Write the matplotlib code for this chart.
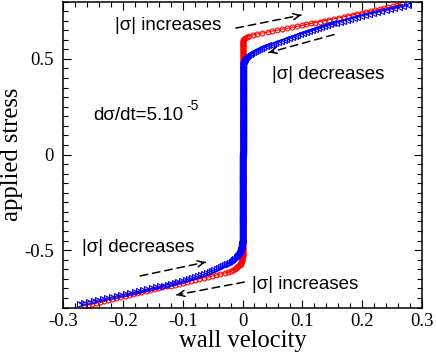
import numpy as np
import matplotlib
matplotlib.use("Agg")
import matplotlib.pyplot as plt
from matplotlib.ticker import MultipleLocator

# ---------------- data ----------------
step = 0.005  # stress sampling step (uniform in time)

# red, |sigma| increasing, upper branch (knee + linear part)
red_up_sig = np.round(np.arange(0.590, 0.7851, step), 3)
red_up_v = [0.000, 0.0005, 0.001, 0.002, 0.004, 0.007, 0.011, 0.017, 0.025, 0.033,
            0.042, 0.050, 0.058, 0.066, 0.075, 0.083, 0.091, 0.099, 0.106, 0.114,
            0.121, 0.129, 0.137, 0.145, 0.153, 0.161, 0.169, 0.176, 0.184, 0.191,
            0.199, 0.206, 0.214, 0.221, 0.229, 0.236, 0.244, 0.251, 0.259, 0.266]

# red, |sigma| increasing, lower branch (ascending sigma)
red_lo_sig = np.round(np.arange(-0.790, -0.5299, step), 3)
red_lo_v = [-0.265, -0.259, -0.252, -0.245, -0.238, -0.231, -0.225, -0.218, -0.211, -0.204,
            -0.197, -0.190, -0.183, -0.176, -0.169, -0.162, -0.155, -0.148, -0.141, -0.134,
            -0.127, -0.120, -0.113, -0.106, -0.099, -0.093, -0.086, -0.079, -0.072, -0.065,
            -0.058, -0.051, -0.044, -0.037, -0.030, -0.024, -0.019, -0.016, -0.013, -0.011,
            -0.009, -0.007, -0.005, -0.004, -0.003, -0.0025, -0.002, -0.0015, -0.001, -0.0008,
            -0.0005, -0.0003, 0.000]

# blue, |sigma| decreasing, upper branch
blue_up_sig = np.round(np.arange(0.470, 0.7801, step), 3)
blue_up_v = [0.000, 0.0005, 0.001, 0.0015, 0.002, 0.003, 0.004, 0.005, 0.006, 0.008,
             0.010, 0.012, 0.015, 0.018, 0.021, 0.024, 0.027, 0.031, 0.035, 0.039,
             0.043, 0.047, 0.051, 0.055, 0.060, 0.064, 0.069, 0.073, 0.078, 0.082,
             0.087, 0.091, 0.096, 0.101, 0.106, 0.111, 0.116, 0.121, 0.126, 0.131,
             0.136, 0.141, 0.146, 0.152, 0.157, 0.163, 0.168, 0.174, 0.180, 0.186,
             0.192, 0.198, 0.205, 0.211, 0.218, 0.225, 0.232, 0.239, 0.247, 0.254,
             0.262, 0.269, 0.277]

# blue, |sigma| decreasing, lower branch (ascending sigma)
blue_lo_sig = np.round(np.arange(-0.780, -0.4649, step), 3)
blue_lo_v = [-0.272, -0.265, -0.257, -0.249, -0.241, -0.233, -0.226, -0.218, -0.210, -0.203,
             -0.195, -0.188, -0.180, -0.173, -0.166, -0.159, -0.152, -0.145, -0.138, -0.132,
             -0.125, -0.119, -0.113, -0.107, -0.101, -0.095, -0.090, -0.084, -0.079, -0.074,
             -0.069, -0.064, -0.060, -0.055, -0.051, -0.047, -0.043, -0.039, -0.036, -0.032,
             -0.029, -0.026, -0.023, -0.021, -0.018, -0.016, -0.014, -0.012, -0.010, -0.009,
             -0.007, -0.006, -0.005, -0.004, -0.003, -0.0025, -0.002, -0.0015, -0.001, -0.0008,
             -0.0005, -0.0003, -0.0001, 0.000]

# pinned (zero velocity) parts of each loop
red_pin_sig = np.round(np.arange(-0.525, 0.5851, step), 3)
blue_pin_sig = np.round(np.arange(-0.460, 0.4651, step), 3)
pin_v = 0.0

xticks = [-0.3, -0.2, -0.1, 0.0, 0.1, 0.2, 0.3]
xticklabels = ["-0.3", "-0.2", "-0.1", "0", "0.1", "0.2", "0.3"]
yticks = [-0.5, 0.0, 0.5]
yticklabels = ["-0.5", "0", "0.5"]

# ---------------- figure ----------------
plt.rcParams['axes.unicode_minus'] = False
fig = plt.figure(figsize=(4.36, 3.54), dpi=100)
ax = fig.add_axes([63/436, (354-307.5)/354, (422-63)/436, 306/354])

red_sig = np.concatenate([red_lo_sig, red_pin_sig, red_up_sig])
red_v = np.concatenate([red_lo_v, np.full(len(red_pin_sig), pin_v), red_up_v])
blue_sig = np.concatenate([blue_lo_sig, blue_pin_sig, blue_up_sig])
blue_v = np.concatenate([blue_lo_v, np.full(len(blue_pin_sig), pin_v), blue_up_v])

ms = 3.5
mew = 0.8
ax.plot(red_v, red_sig, '-', color='red', lw=0.8, marker='o', ms=ms,
        mfc='none', mec='red', mew=mew)
nlo = len(blue_lo_sig) + len(blue_pin_sig) // 2
ax.plot(blue_v[:nlo], blue_sig[:nlo], '-', color='blue', lw=0.8, marker='>', ms=ms + 0.4,
        mfc='none', mec='blue', mew=mew)
ax.plot(blue_v[nlo:], blue_sig[nlo:], '-', color='blue', lw=0.8, marker='<', ms=ms + 0.4,
        mfc='none', mec='blue', mew=mew)

ax.set_xlim(-0.3, 0.3)
ax.set_ylim(-0.8, 0.8)
ax.set_xticks(xticks)
ax.set_xticklabels(xticklabels)
ax.set_yticks(yticks)
ax.set_yticklabels(yticklabels)
ax.xaxis.set_minor_locator(MultipleLocator(0.02))
ax.yaxis.set_minor_locator(MultipleLocator(0.05))
ax.tick_params(which='both', direction='in', top=True, right=True, width=0.8)
ax.tick_params(which='major', length=5.8)
ax.tick_params(which='minor', length=3.6)
ax.tick_params(axis='x', pad=4)
ax.tick_params(axis='y', pad=6.5)
for lab in ax.get_xticklabels() + ax.get_yticklabels():
    lab.set_family('Liberation Serif')
    lab.set_fontsize(13.5)
for s in ax.spines.values():
    s.set_linewidth(1.1)

ax.set_xlabel("wall velocity", family='Liberation Serif', fontsize=17.7, labelpad=0)
ax.set_ylabel("applied stress", family='Liberation Serif', fontsize=17.7, labelpad=1)

tf = dict(family='Liberation Sans', fontsize=13.5, color='black')
ax.text(-0.213, 0.672, "|σ| increases", ha='left', va='center', **tf)
ax.text(0.05, 0.42, "|σ| decreases", ha='left', va='center', **tf)
ax.text(-0.268, -0.485, "|σ| decreases", ha='left', va='center', **tf)
ax.text(0.016, -0.68, "|σ| increases", ha='left', va='center', **tf)
ax.text(-0.25, 0.205, "dσ/dt=5.10", ha='left', va='center', **tf)
ax.text(-0.093, 0.255, "-5", ha='left', va='center', family='Liberation Sans',
        fontsize=10, color='black')


def dashed_arrow(p0, p1):
    p0 = np.array(p0)
    p1 = np.array(p1)
    ax.annotate('', xy=p1, xytext=p0,
                arrowprops=dict(arrowstyle='-', linestyle=(0, (5, 3.2)), lw=1.1,
                                color='black', shrinkA=0, shrinkB=0))
    q = p1 - (p1 - p0) * 0.04
    ax.annotate('', xy=p1, xytext=q,
                arrowprops=dict(arrowstyle='->,head_length=0.45,head_width=0.22', lw=1.1,
                                color='black', shrinkA=0, shrinkB=0))


dashed_arrow((-0.011, 0.661), (0.098, 0.729))
dashed_arrow((0.153, 0.627), (0.044, 0.533))
dashed_arrow((-0.171, -0.635), (-0.062, -0.563))
dashed_arrow((0.003, -0.667), (-0.11, -0.734))

fig.savefig("out.png", dpi=100)
